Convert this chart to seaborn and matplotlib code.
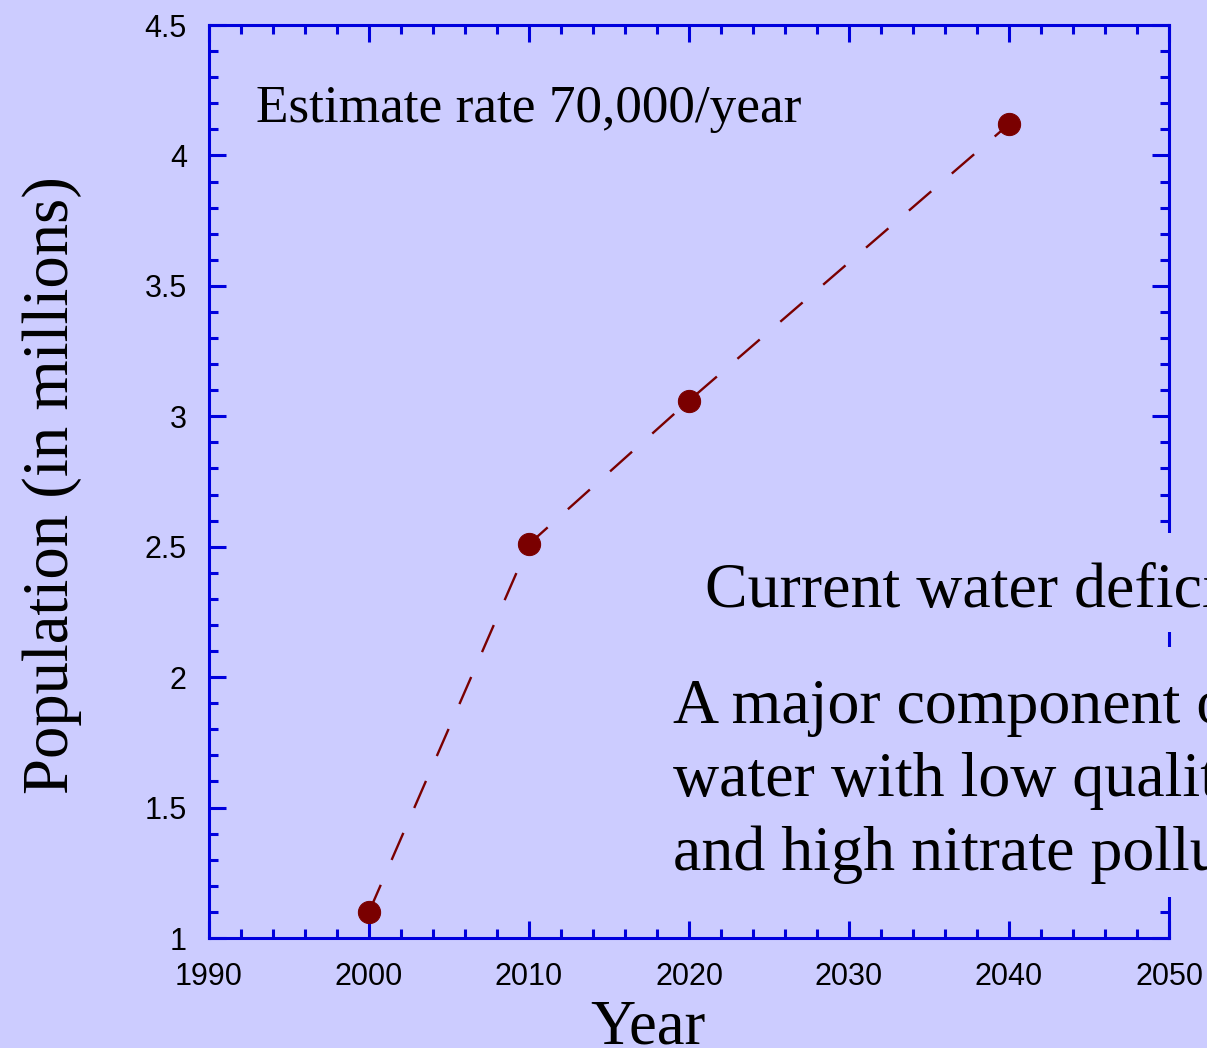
import matplotlib
matplotlib.use("Agg")
import matplotlib.pyplot as plt
import seaborn as sns
import pandas as pd
from matplotlib.ticker import MultipleLocator, FuncFormatter
from matplotlib.patches import Rectangle

years = [2000, 2010, 2020, 2040]
population = [1.10, 2.51, 3.06, 4.12]
x_ticks = [1990, 2000, 2010, 2020, 2030, 2040, 2050]
y_ticks = [1, 1.5, 2, 2.5, 3, 3.5, 4, 4.5]

bg = "#CCCCFF"
blue = "#0000DD"
red = "#7A0000"

sns.set_theme(style="ticks")
plt.rcParams["font.family"] = ["Liberation Sans", "DejaVu Sans"]
plt.rcParams["text.color"] = "black"
plt.rcParams["axes.labelcolor"] = "black"

W, H = 1207, 1048
fig = plt.figure(figsize=(W / 100, H / 100), dpi=100, facecolor=bg)
ax = fig.add_axes([209 / W, 1 - 938 / H, (1169 - 209) / W, (938 - 25) / H])
ax.set_facecolor(bg)

df = pd.DataFrame({"Year": years, "Population": population})
sns.lineplot(data=df, x="Year", y="Population", ax=ax, color=red,
             linestyle=(0, (12.5, 11.5)), linewidth=1.7, marker="o", markersize=16,
             markeredgecolor=red, markerfacecolor=red, sort=False)

ax.set_xlim(1990, 2050)
ax.set_ylim(1, 4.5)
ax.set_xticks(x_ticks)
ax.set_yticks(y_ticks)
ax.xaxis.set_minor_locator(MultipleLocator(2))
ax.yaxis.set_minor_locator(MultipleLocator(0.1))
ax.yaxis.set_major_formatter(FuncFormatter(lambda v, p: f"{v:g}"))

for s in ax.spines.values():
    s.set_color(blue)
    s.set_linewidth(2.2)
    s.set_visible(True)

ax.tick_params(which="both", direction="in", top=True, right=True, color=blue,
               labelcolor="black", labelsize=22)
ax.tick_params(which="major", length=12.5, width=2.2)
ax.tick_params(which="minor", length=6.5, width=2.2)
ax.tick_params(axis="y", which="major", pad=16)
ax.tick_params(axis="x", which="major", pad=17)

ax.set_xlabel("")
ax.set_ylabel("")
fig.text(648 / W, 1 - 1044 / H, "Year", fontsize=45,
         family=["Liberation Serif"], ha="center", va="baseline")
fig.text(52 / W, 1 - 485 / H, "Population (in millions)", fontsize=46.5,
         family=["Liberation Serif"], ha="center", va="center", rotation=90)

fig.text(256 / W, 1 - 122 / H, "Estimate rate 70,000/year", fontsize=38.3,
         family=["Liberation Serif"], ha="left", va="baseline")

# background-coloured panels behind the annotation text (they hide the right spine)
fig.patches.append(Rectangle((1140 / W, 1 - 632 / H), (W - 1140) / W, (632 - 533) / H,
                             transform=fig.transFigure, facecolor=bg, edgecolor="none",
                             zorder=5))
fig.patches.append(Rectangle((1140 / W, 1 - 897 / H), (W - 1140) / W, (897 - 647) / H,
                             transform=fig.transFigure, facecolor=bg, edgecolor="none",
                             zorder=5))

fig.text(705 / W, 1 - 607 / H, "Current water deficit", fontsize=46,
         family=["Liberation Serif"], ha="left", va="baseline", zorder=10)
fig.text(673 / W, 1 - 870 / H,
         "A major component of\nwater with low quality\nand high nitrate pollution",
         fontsize=46, family=["Liberation Serif"], ha="left", va="baseline",
         linespacing=1.345, zorder=10)

fig.savefig("out.png", dpi=100, facecolor=bg)
